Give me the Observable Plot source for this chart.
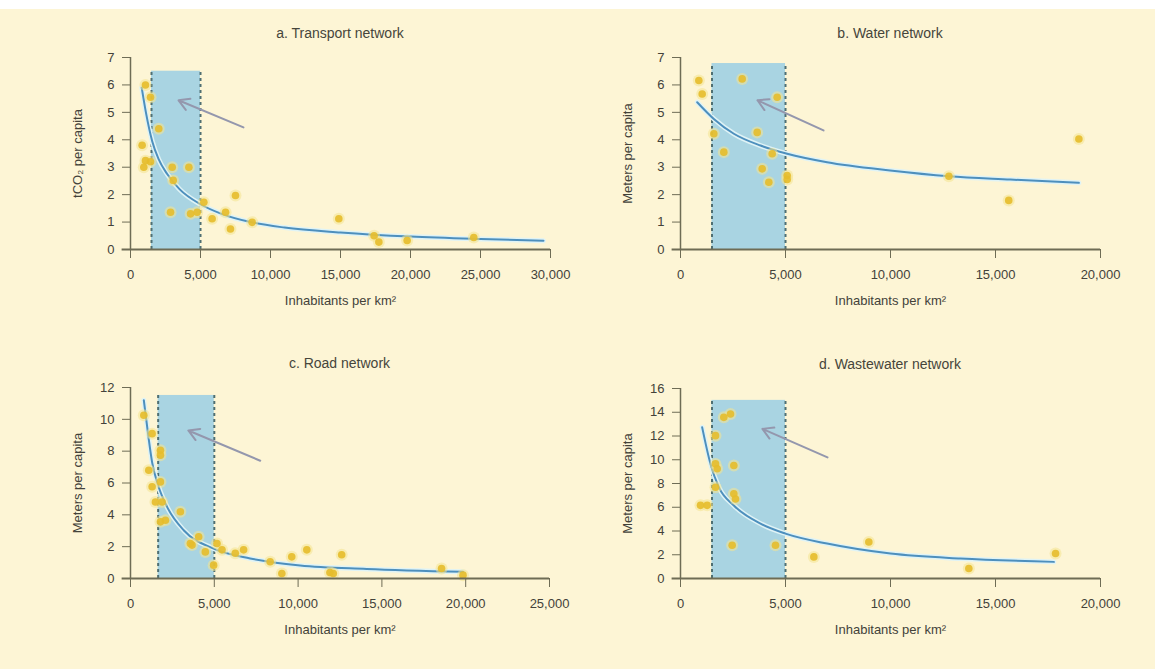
<!DOCTYPE html>
<html><head><meta charset="utf-8">
<script src="https://cdn.jsdelivr.net/npm/d3@7"></script>
<script src="https://cdn.jsdelivr.net/npm/@observablehq/plot@0.6"></script>
<style>
body{margin:0;background:#fff;}
#root{position:relative;width:1155px;height:669px;background:#fdf5d5;overflow:hidden;font-family:"Liberation Sans",Arial,sans-serif;}
#top{position:absolute;left:0;top:0;width:1155px;height:9px;background:#fff}
.panel{position:absolute}
.title{position:absolute;font-size:14px;color:#46453b;text-align:center;width:400px;line-height:15px}
</style></head><body><div id="root"><div id="top"></div></div>
<script>
// ---- data ----
const titles = ["a. Transport network", "b. Water network", "c. Road network", "d. Wastewater network"];
const yLabels = ["tCO\u2082 per capita", "Meters per capita", "Meters per capita", "Meters per capita"];
const xLabel = "Inhabitants per km\u00b2";

const transportX = [1070,1430,2020,830,1070,950,1430,2980,4170,3050,7500,5240,4760,4290,2860,5830,6790,7140,8690,14880,17740,19760,17400,24520];
const transportY = [6.0,5.55,4.4,3.8,3.24,3.0,3.2,3.0,3.0,2.52,1.97,1.72,1.36,1.30,1.36,1.12,1.36,0.75,0.99,1.12,0.27,0.33,0.5,0.44];
const transportFitX = [800,1100,1550,2000,2620,3500,5000,6500,8570,11000,15000,20000,25000,29500];
const transportFitY = [5.9,5.0,3.95,3.3,2.75,2.2,1.65,1.3,1.0,0.8,0.62,0.47,0.38,0.32];

const waterX = [873,1032,2937,4603,1587,3651,2063,4365,3889,4206,5079,5079,12780,15630,18970];
const waterY = [6.16,5.67,6.22,5.55,4.22,4.27,3.55,3.49,2.94,2.45,2.7,2.55,2.67,1.79,4.03];
const waterFitX = [794,1587,2540,3810,5080,6980,9980,12780,15710,18970];
const waterFitY = [5.37,4.76,4.22,3.79,3.49,3.18,2.88,2.67,2.55,2.43];

const roadX = [794,1290,1091,1290,1786,1786,1786,1488,1885,1786,2083,2976,4067,3671,4464,4960,5160,5460,6250,6750,8333,9030,9620,10520,11900,12100,12600,18560,19840,3570];
const roadY = [10.26,9.1,6.8,5.76,8.06,7.75,6.07,4.81,4.81,3.56,3.66,4.19,2.62,2.1,1.67,0.84,2.2,1.8,1.59,1.8,1.05,0.31,1.36,1.8,0.38,0.31,1.49,0.63,0.21,2.2];
const roadFitX = [794,1070,1290,1667,2183,3175,4960,7140,10120,14090,19840];
const roadFitY = [11.2,8.9,7.3,5.8,4.5,3.03,1.88,1.26,0.82,0.6,0.42];

const wwX = [952,1270,1667,2063,2381,1667,1746,2540,1667,2540,2619,2460,4524,6350,8968,13730,17860];
const wwY = [6.16,6.16,12.03,13.57,13.85,9.65,9.24,9.51,7.69,7.13,6.7,2.8,2.8,1.82,3.08,0.84,2.1];
const wwFitX = [1032,1429,1825,2540,3810,5000,6980,10000,13330,17780];
const wwFitY = [12.73,9.65,7.69,6.15,4.62,3.78,2.94,2.1,1.68,1.4];

const bandLeft = [1500,1500,1650,1500];
const bandRight = [5000,5000,5000,5000];
const bandTop = [6.5,6.78,11.5,15.0];
const arrowTailX = [8070,6810,7740,7000];
const arrowTailY = [4.45,4.34,7.4,10.2];
const arrowHeadX = [3430,3667,3450,3900];
const arrowHeadY = [5.44,5.44,9.3,12.6];

const xMax = [30000,20000,25000,20000];
const yMax = [7,7,12,16];
const yStep = [1,1,2,2];

const seriesX = [transportX, waterX, roadX, wwX];
const seriesY = [transportY, waterY, roadY, wwY];
const fitX = [transportFitX, waterFitX, roadFitX, wwFitX];
const fitY = [transportFitY, waterFitY, roadFitY, wwFitY];

// frame pixel boxes: [left, right, top, bottom]
const frames = [[130,550,57,249],[680,1100,57,249],[130,549,387,578],[680,1100,388,578]];

const root = document.getElementById("root");
const axisColor = "#6e6c55";
const textColor = "#43423a";

for (let i = 0; i < 4; i++) {
  const [fl, fr, ft, fb] = frames[i];
  const mL = 80, mT = 17, mR = 40, mB = 62;
  const pts = seriesX[i].map((x, j) => ({x, y: seriesY[i][j]}));
  const fit = fitX[i].map((x, j) => ({x, y: fitY[i][j]}));
  const band = [{x1: bandLeft[i], x2: bandRight[i], y2: bandTop[i]}];
  const arrow = [{x1: arrowTailX[i], y1: arrowTailY[i], x2: arrowHeadX[i], y2: arrowHeadY[i]}];
  const xt = d3.range(0, xMax[i] + 1, 5000);
  const yt = d3.range(0, yMax[i] + 0.001, yStep[i]);
  const chart = Plot.plot({
    width: fr - fl + mL + mR,
    height: fb - ft + mT + mB,
    marginLeft: mL, marginTop: mT, marginRight: mR, marginBottom: mB,
    style: {background: "transparent", fontFamily: "'Liberation Sans', Arial, sans-serif", fontSize: "13px", color: textColor, overflow: "visible"},
    x: {domain: [0, xMax[i]]},
    y: {domain: [0, yMax[i]]},
    marks: [
      Plot.rect(band, {x1: "x1", x2: "x2", y1: 0, y2: "y2", fill: "#a9d4e2"}),
      Plot.ruleX([bandLeft[i], bandRight[i]], {y1: 0, y2: bandTop[i], stroke: "#4f6f72", strokeWidth: 2, strokeDasharray: "3,3"}),
      Plot.arrow(arrow, {x1: "x1", y1: "y1", x2: "x2", y2: "y2", stroke: "#9497ad", strokeWidth: 2, headLength: 9, insetEnd: 0}),
      Plot.line(fit, {x: "x", y: "y", stroke: "#dff3f6", strokeWidth: 5, curve: "monotone-x"}),
      Plot.line(fit, {x: "x", y: "y", stroke: "#4d8fbd", strokeWidth: 2, curve: "monotone-x"}),
      Plot.dot(pts, {x: "x", y: "y", r: 6, fill: "#f4e48f", fillOpacity: 0.55}),
      Plot.dot(pts, {x: "x", y: "y", r: 3.8, fill: "#e5bd2b", fillOpacity: 0.9}),
      Plot.ruleX([0], {y1: 0, y2: yMax[i], stroke: axisColor, strokeWidth: 1.5}),
      Plot.ruleY([0], {x1: -xMax[i] * 0.02, x2: xMax[i], stroke: axisColor, strokeWidth: 2}),
      Plot.axisX({ticks: xt, tickFormat: d3.format(","), tickSize: 9, tickPadding: 11, stroke: axisColor, fill: textColor,
        label: xLabel, labelAnchor: "center", labelOffset: 55, labelArrow: "none", fontSize: 13}),
      Plot.axisY({ticks: yt, tickFormat: d3.format("d"), tickSize: 8, tickPadding: 8, stroke: axisColor, fill: textColor,
        label: yLabels[i], labelAnchor: "center", labelOffset: 58, labelArrow: "none", fontSize: 13})
    ]
  });
  const div = document.createElement("div");
  div.className = "panel";
  div.style.left = (fl - mL) + "px";
  div.style.top = (ft - mT) + "px";
  div.appendChild(chart);
  root.appendChild(div);

  const t = document.createElement("div");
  t.className = "title";
  t.textContent = titles[i];
  t.style.left = ((fl + fr) / 2 - 200) + "px";
  t.style.top = (ft - 31) + "px";
  root.appendChild(t);
}
</script>
</body></html>
